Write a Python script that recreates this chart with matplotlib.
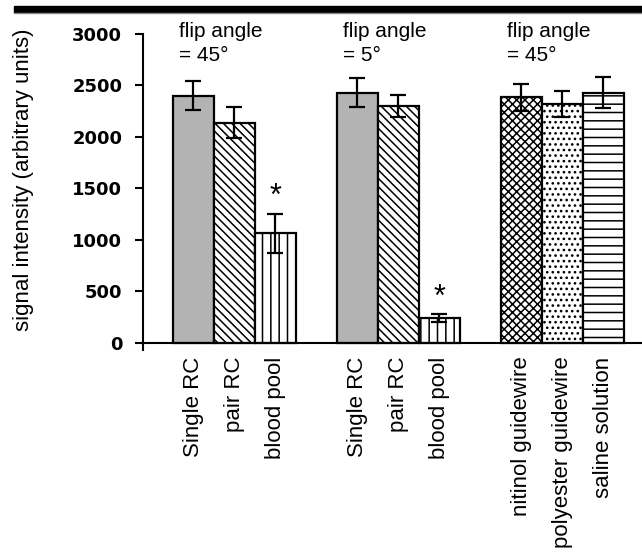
import matplotlib
matplotlib.use("Agg")
import matplotlib.pyplot as plt
from matplotlib.patches import Rectangle
from matplotlib.lines import Line2D

plt.rcParams["font.family"] = ["Liberation Sans", "DejaVu Sans"]
plt.rcParams["hatch.linewidth"] = 1.1

# values
labels = ["Single RC", "pair RC", "blood pool",
          "Single RC", "pair RC", "blood pool",
          "nitinol guidewire", "polyester guidewire", "saline solution"]
means = [2400, 2140, 1065, 2430, 2300, 240, 2385, 2320, 2430]
errors = [140, 150, 190, 140, 110, 35, 130, 128, 150]
hatches = ["", "\\\\\\\\", "||", "", "\\\\\\\\", "||", "xxxx", "...", "--"]
fills = ["#b3b3b3", "white", "white", "#b3b3b3", "white", "white",
         "white", "white", "white"]
group_notes = ["flip angle\n= 45°", "flip angle\n= 5°", "flip angle\n= 45°"]
significant = [2, 5]

# three bars per group, one empty slot between groups
xpos = [i + i // 3 for i in range(len(means))]

fig = plt.figure(figsize=(6.42, 5.59), dpi=100)
ax = fig.add_axes([143 / 642, 1 - 350 / 559, 1 - 143 / 642, (350 - 34) / 559])

ax.bar(xpos, means, width=1.0, color=fills, edgecolor="black",
       linewidth=1.6, hatch=hatches, zorder=2)
ax.errorbar(xpos, means, yerr=errors, fmt="none", ecolor="black",
            elinewidth=1.6, capsize=6, capthick=1.6, zorder=3)

for i in significant:
    ax.text(xpos[i], means[i] + errors[i] + 15, "*", ha="center",
            va="bottom", fontsize=22)

for g, note in enumerate(group_notes):
    ax.text(xpos[3 * g] - 0.35, 3115, note, ha="left", va="top",
            fontsize=15, linespacing=1.3, clip_on=False)

ax.set_xlim(-1.23, 10.94)
ax.set_ylim(-70, 3000)
ax.spines["bottom"].set_position(("data", 0))
ax.spines["right"].set_visible(False)
ax.spines["top"].set_visible(False)
ax.spines["left"].set_linewidth(1.5)
ax.spines["bottom"].set_linewidth(1.5)

ax.set_yticks(range(0, 3001, 500))
ax.set_yticklabels([str(v) for v in range(0, 3001, 500)],
                   fontfamily="DejaVu Sans", fontweight="bold", fontsize=13)
ax.tick_params(axis="y", direction="out", length=6, width=1.5, pad=9)

ax.set_xticks(xpos)
ax.set_xticklabels(labels, rotation=90, fontsize=16)
ax.tick_params(axis="x", length=0, pad=10)

fig.text(24 / 642, 1 - 180 / 559, "signal intensity (arbitrary units)",
         rotation=90, ha="center", va="center", fontsize=16)

# heavy rule across the top of the page
fig.add_artist(Rectangle((14 / 642, 1 - 12 / 559), 1, 6 / 559,
                         transform=fig.transFigure, color="black"))
fig.add_artist(Line2D([14 / 642, 1], [1 - 13 / 559, 1 - 13 / 559],
                      transform=fig.transFigure, color="#888888", lw=1))

fig.savefig("out.png", dpi=100)
